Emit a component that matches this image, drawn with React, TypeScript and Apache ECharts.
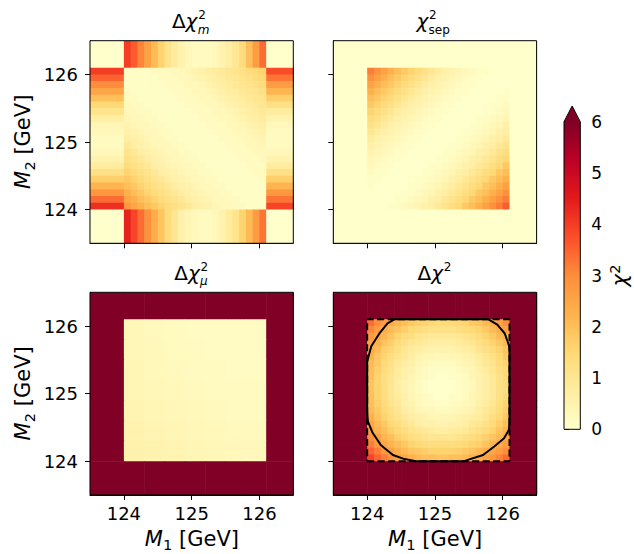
import React, { useEffect, useRef } from "react";
import * as echarts from "echarts";

// ---------- data ----------
const AXIS_MIN = 123.5;
const AXIS_MAX = 126.5;
const MASS_TICKS = [124, 125, 126];
const CB_MIN = 0;
const CB_MAX = 6;
const CB_TICKS = [0, 1, 2, 3, 4, 5, 6];

// cell edges (GeV) of the scanned mass window
const INNER_EDGES = [124.0, 124.1, 124.2, 124.3, 124.4, 124.5, 124.6, 124.7, 124.8, 124.9, 125.0, 125.1, 125.2, 125.3, 125.4, 125.5, 125.6, 125.7, 125.8, 125.9, 126.0, 126.1];
const MU_EDGES = [124.0, 124.3, 124.6, 124.9, 125.2, 125.5, 125.8, 126.1];

// Δχ²_m : bands outside the window (left/right listed top→bottom, top/bottom listed left→right)
const DM_CORNER = 0.0;
const DM_TOP = [4.0, 3.6, 3.1, 2.6, 2.1, 1.6, 1.1, 0.8, 0.5, 0.3, 0.2, 0.2, 0.2, 0.3, 0.5, 0.7, 1.0, 1.4, 2.0, 2.7, 3.4];
const DM_BOTTOM = [4.4, 3.9, 3.4, 2.9, 2.4, 1.9, 1.4, 1.0, 0.6, 0.4, 0.3, 0.2, 0.2, 0.3, 0.5, 0.8, 1.1, 1.6, 2.1, 2.7, 3.3];
const DM_LEFT = [4.0, 3.5, 3.0, 2.5, 2.0, 1.5, 1.1, 0.7, 0.4, 0.3, 0.2, 0.2, 0.3, 0.5, 0.8, 1.2, 1.7, 2.2, 2.8, 3.4, 4.2];
const DM_RIGHT = [3.8, 3.3, 2.7, 2.2, 1.7, 1.2, 0.8, 0.5, 0.3, 0.2, 0.2, 0.2, 0.3, 0.5, 0.8, 1.2, 1.7, 2.2, 2.8, 3.3, 3.9];
// Δχ²_m inside the window, rows from M2 = 126.1 (top) down to 124.0
const DM_INNER = [
  [0.1, 0.1, 0.1, 0.1, 0.2, 0.2, 0.2, 0.3, 0.3, 0.4, 0.5, 0.6, 0.7, 0.8, 0.9, 1.0, 1.1, 1.2, 1.4, 1.5, 1.6],
  [0.1, 0.1, 0.1, 0.1, 0.1, 0.2, 0.2, 0.2, 0.3, 0.3, 0.4, 0.5, 0.6, 0.7, 0.8, 0.9, 1.0, 1.1, 1.2, 1.4, 1.5],
  [0.1, 0.1, 0.1, 0.1, 0.1, 0.1, 0.2, 0.2, 0.2, 0.3, 0.3, 0.4, 0.5, 0.6, 0.7, 0.8, 0.9, 1.0, 1.1, 1.2, 1.4],
  [0.2, 0.1, 0.1, 0.1, 0.1, 0.1, 0.1, 0.2, 0.2, 0.2, 0.3, 0.3, 0.4, 0.5, 0.6, 0.7, 0.8, 0.9, 1.0, 1.1, 1.2],
  [0.2, 0.2, 0.1, 0.1, 0.1, 0.1, 0.1, 0.1, 0.2, 0.2, 0.2, 0.3, 0.3, 0.4, 0.5, 0.6, 0.7, 0.8, 0.9, 1.0, 1.1],
  [0.3, 0.2, 0.2, 0.1, 0.1, 0.1, 0.1, 0.1, 0.1, 0.2, 0.2, 0.2, 0.3, 0.3, 0.4, 0.5, 0.6, 0.7, 0.8, 0.9, 1.0],
  [0.3, 0.3, 0.2, 0.2, 0.1, 0.1, 0.1, 0.1, 0.1, 0.1, 0.2, 0.2, 0.2, 0.3, 0.3, 0.4, 0.5, 0.6, 0.7, 0.8, 0.9],
  [0.4, 0.3, 0.3, 0.2, 0.2, 0.1, 0.1, 0.1, 0.1, 0.1, 0.1, 0.2, 0.2, 0.2, 0.3, 0.3, 0.4, 0.5, 0.6, 0.7, 0.8],
  [0.5, 0.4, 0.3, 0.3, 0.2, 0.2, 0.1, 0.1, 0.1, 0.1, 0.1, 0.1, 0.2, 0.2, 0.2, 0.3, 0.3, 0.4, 0.5, 0.6, 0.7],
  [0.6, 0.5, 0.4, 0.3, 0.3, 0.2, 0.2, 0.1, 0.1, 0.1, 0.1, 0.1, 0.1, 0.2, 0.2, 0.2, 0.3, 0.3, 0.4, 0.5, 0.6],
  [0.7, 0.6, 0.5, 0.4, 0.3, 0.3, 0.2, 0.2, 0.1, 0.1, 0.1, 0.1, 0.1, 0.1, 0.2, 0.2, 0.2, 0.3, 0.3, 0.4, 0.5],
  [0.9, 0.7, 0.6, 0.5, 0.4, 0.3, 0.3, 0.2, 0.2, 0.1, 0.1, 0.1, 0.1, 0.1, 0.1, 0.2, 0.2, 0.2, 0.3, 0.3, 0.4],
  [1.1, 0.9, 0.7, 0.6, 0.5, 0.4, 0.3, 0.3, 0.2, 0.2, 0.1, 0.1, 0.1, 0.1, 0.1, 0.1, 0.2, 0.2, 0.2, 0.3, 0.3],
  [1.2, 1.1, 0.9, 0.7, 0.6, 0.5, 0.4, 0.3, 0.3, 0.2, 0.2, 0.1, 0.1, 0.1, 0.1, 0.1, 0.1, 0.2, 0.2, 0.2, 0.3],
  [1.4, 1.2, 1.1, 0.9, 0.7, 0.6, 0.5, 0.4, 0.3, 0.3, 0.2, 0.2, 0.1, 0.1, 0.1, 0.1, 0.1, 0.1, 0.2, 0.2, 0.2],
  [1.6, 1.4, 1.2, 1.1, 0.9, 0.7, 0.6, 0.5, 0.4, 0.3, 0.3, 0.2, 0.2, 0.1, 0.1, 0.1, 0.1, 0.1, 0.1, 0.2, 0.2],
  [1.8, 1.6, 1.4, 1.2, 1.1, 0.9, 0.7, 0.6, 0.5, 0.4, 0.3, 0.3, 0.2, 0.2, 0.1, 0.1, 0.1, 0.1, 0.1, 0.1, 0.2],
  [2.0, 1.8, 1.6, 1.4, 1.2, 1.1, 0.9, 0.7, 0.6, 0.5, 0.4, 0.3, 0.3, 0.2, 0.2, 0.1, 0.1, 0.1, 0.1, 0.1, 0.1],
  [2.3, 2.0, 1.8, 1.6, 1.4, 1.2, 1.1, 0.9, 0.7, 0.6, 0.5, 0.4, 0.3, 0.3, 0.2, 0.2, 0.1, 0.1, 0.1, 0.1, 0.1],
  [2.5, 2.3, 2.0, 1.8, 1.6, 1.4, 1.2, 1.1, 0.9, 0.7, 0.6, 0.5, 0.4, 0.3, 0.3, 0.2, 0.2, 0.1, 0.1, 0.1, 0.1],
  [2.8, 2.5, 2.3, 2.0, 1.8, 1.6, 1.4, 1.2, 1.1, 0.9, 0.7, 0.6, 0.5, 0.4, 0.3, 0.3, 0.2, 0.2, 0.1, 0.1, 0.1],
];

// χ²_sep
const SEP_OUTSIDE = 0.0;
const SEP_INNER = [
  [3.2, 2.9, 2.6, 2.3, 2.0, 1.8, 1.6, 1.4, 1.2, 1.0, 0.8, 0.6, 0.5, 0.4, 0.3, 0.2, 0.1, 0.1, 0.0, 0.0, 0.0],
  [2.9, 2.6, 2.3, 2.0, 1.8, 1.6, 1.4, 1.2, 1.0, 0.8, 0.6, 0.5, 0.4, 0.3, 0.2, 0.1, 0.1, 0.0, 0.0, 0.0, 0.0],
  [2.6, 2.3, 2.0, 1.8, 1.6, 1.4, 1.2, 1.0, 0.8, 0.6, 0.5, 0.4, 0.3, 0.2, 0.1, 0.1, 0.0, 0.0, 0.0, 0.0, 0.0],
  [2.3, 2.0, 1.8, 1.6, 1.4, 1.2, 1.0, 0.8, 0.6, 0.5, 0.4, 0.3, 0.2, 0.1, 0.1, 0.0, 0.0, 0.0, 0.0, 0.0, 0.1],
  [2.0, 1.8, 1.6, 1.4, 1.2, 1.0, 0.8, 0.6, 0.5, 0.4, 0.3, 0.2, 0.1, 0.1, 0.0, 0.0, 0.0, 0.0, 0.0, 0.1, 0.1],
  [1.8, 1.6, 1.4, 1.2, 1.0, 0.8, 0.6, 0.5, 0.4, 0.3, 0.2, 0.1, 0.1, 0.0, 0.0, 0.0, 0.0, 0.0, 0.1, 0.1, 0.2],
  [1.6, 1.4, 1.2, 1.0, 0.8, 0.6, 0.5, 0.4, 0.3, 0.2, 0.1, 0.1, 0.0, 0.0, 0.0, 0.0, 0.0, 0.1, 0.1, 0.2, 0.3],
  [1.4, 1.2, 1.0, 0.8, 0.6, 0.5, 0.4, 0.3, 0.2, 0.1, 0.1, 0.0, 0.0, 0.0, 0.0, 0.0, 0.1, 0.1, 0.2, 0.3, 0.4],
  [1.2, 1.0, 0.8, 0.6, 0.5, 0.4, 0.3, 0.2, 0.1, 0.1, 0.0, 0.0, 0.0, 0.0, 0.0, 0.1, 0.1, 0.2, 0.3, 0.4, 0.6],
  [1.0, 0.8, 0.6, 0.5, 0.4, 0.3, 0.2, 0.1, 0.1, 0.0, 0.0, 0.0, 0.0, 0.0, 0.1, 0.1, 0.2, 0.3, 0.4, 0.6, 0.7],
  [0.8, 0.6, 0.5, 0.4, 0.3, 0.2, 0.1, 0.1, 0.0, 0.0, 0.0, 0.0, 0.0, 0.1, 0.1, 0.2, 0.3, 0.4, 0.6, 0.7, 0.9],
  [0.6, 0.5, 0.4, 0.3, 0.2, 0.1, 0.1, 0.0, 0.0, 0.0, 0.0, 0.0, 0.1, 0.1, 0.2, 0.3, 0.4, 0.6, 0.7, 0.9, 1.1],
  [0.5, 0.4, 0.3, 0.2, 0.1, 0.1, 0.0, 0.0, 0.0, 0.0, 0.0, 0.1, 0.1, 0.2, 0.3, 0.4, 0.6, 0.7, 0.9, 1.1, 1.3],
  [0.4, 0.3, 0.2, 0.1, 0.1, 0.0, 0.0, 0.0, 0.0, 0.0, 0.1, 0.1, 0.2, 0.3, 0.4, 0.6, 0.7, 0.9, 1.1, 1.3, 1.5],
  [0.3, 0.2, 0.1, 0.1, 0.0, 0.0, 0.0, 0.0, 0.0, 0.1, 0.1, 0.2, 0.3, 0.4, 0.6, 0.7, 0.9, 1.1, 1.3, 1.5, 1.8],
  [0.2, 0.1, 0.1, 0.0, 0.0, 0.0, 0.0, 0.0, 0.1, 0.1, 0.2, 0.3, 0.4, 0.6, 0.7, 0.9, 1.1, 1.3, 1.5, 1.8, 2.0],
  [0.1, 0.1, 0.0, 0.0, 0.0, 0.0, 0.0, 0.1, 0.1, 0.2, 0.3, 0.4, 0.6, 0.7, 0.9, 1.1, 1.3, 1.5, 1.8, 2.0, 2.3],
  [0.1, 0.0, 0.0, 0.0, 0.0, 0.0, 0.1, 0.1, 0.2, 0.3, 0.4, 0.6, 0.7, 0.9, 1.1, 1.3, 1.5, 1.8, 2.0, 2.3, 2.6],
  [0.0, 0.0, 0.0, 0.0, 0.0, 0.1, 0.1, 0.2, 0.3, 0.4, 0.6, 0.7, 0.9, 1.1, 1.3, 1.5, 1.8, 2.0, 2.3, 2.6, 2.9],
  [0.0, 0.0, 0.0, 0.0, 0.1, 0.1, 0.2, 0.3, 0.4, 0.6, 0.7, 0.9, 1.1, 1.3, 1.5, 1.8, 2.0, 2.3, 2.6, 2.9, 3.2],
  [0.0, 0.0, 0.0, 0.1, 0.1, 0.2, 0.3, 0.4, 0.6, 0.7, 0.9, 1.1, 1.3, 1.5, 1.8, 2.0, 2.3, 2.6, 2.9, 3.2, 3.6],
];

// Δχ²_μ (outside the window it is far above the colour scale)
const MU_OUTSIDE = 8.0;
const MU_INNER = [
  [0.35, 0.25, 0.2, 0.15, 0.15, 0.15, 0.15],
  [0.35, 0.3, 0.2, 0.2, 0.15, 0.15, 0.15],
  [0.4, 0.3, 0.25, 0.2, 0.2, 0.15, 0.15],
  [0.4, 0.35, 0.3, 0.25, 0.2, 0.2, 0.2],
  [0.45, 0.4, 0.35, 0.3, 0.25, 0.2, 0.2],
  [0.5, 0.45, 0.4, 0.35, 0.3, 0.25, 0.25],
  [0.55, 0.5, 0.45, 0.4, 0.35, 0.3, 0.3],
];

// Δχ² total
const TOT_OUTSIDE = 8.0;
const TOT_INNER = [
  [3.4, 3.0, 2.7, 2.4, 2.2, 2.0, 1.8, 1.7, 1.6, 1.5, 1.4, 1.4, 1.5, 1.5, 1.6, 1.8, 1.9, 2.1, 2.3, 2.6, 2.9],
  [3.1, 2.7, 2.4, 2.1, 1.9, 1.7, 1.5, 1.4, 1.3, 1.2, 1.2, 1.2, 1.2, 1.3, 1.4, 1.5, 1.6, 1.8, 2.1, 2.3, 2.6],
  [2.8, 2.5, 2.2, 1.9, 1.6, 1.4, 1.3, 1.1, 1.0, 0.9, 0.9, 0.9, 0.9, 1.0, 1.1, 1.2, 1.4, 1.6, 1.8, 2.1, 2.3],
  [2.6, 2.3, 1.9, 1.7, 1.4, 1.2, 1.0, 0.9, 0.8, 0.7, 0.7, 0.7, 0.7, 0.8, 0.9, 1.0, 1.2, 1.4, 1.6, 1.8, 2.1],
  [2.4, 2.1, 1.7, 1.5, 1.2, 1.0, 0.8, 0.7, 0.6, 0.5, 0.5, 0.5, 0.5, 0.6, 0.7, 0.8, 1.0, 1.2, 1.4, 1.6, 1.9],
  [2.3, 1.9, 1.6, 1.3, 1.1, 0.9, 0.7, 0.5, 0.4, 0.4, 0.3, 0.3, 0.4, 0.4, 0.5, 0.6, 0.8, 1.0, 1.2, 1.5, 1.8],
  [2.1, 1.8, 1.5, 1.2, 0.9, 0.7, 0.6, 0.4, 0.3, 0.2, 0.2, 0.2, 0.2, 0.3, 0.4, 0.5, 0.7, 0.9, 1.1, 1.4, 1.6],
  [2.0, 1.7, 1.4, 1.1, 0.8, 0.6, 0.5, 0.3, 0.2, 0.1, 0.1, 0.1, 0.1, 0.2, 0.3, 0.4, 0.6, 0.8, 1.0, 1.3, 1.5],
  [2.0, 1.6, 1.3, 1.0, 0.8, 0.6, 0.4, 0.3, 0.2, 0.1, 0.0, 0.0, 0.1, 0.1, 0.2, 0.4, 0.5, 0.7, 0.9, 1.2, 1.5],
  [1.9, 1.6, 1.3, 1.0, 0.7, 0.5, 0.4, 0.2, 0.1, 0.0, 0.0, 0.0, 0.0, 0.1, 0.2, 0.3, 0.5, 0.7, 0.9, 1.2, 1.4],
  [1.9, 1.6, 1.3, 1.0, 0.7, 0.5, 0.4, 0.2, 0.1, 0.0, 0.0, 0.0, 0.0, 0.1, 0.2, 0.3, 0.5, 0.7, 0.9, 1.2, 1.4],
  [2.0, 1.6, 1.3, 1.0, 0.8, 0.6, 0.4, 0.3, 0.2, 0.1, 0.0, 0.0, 0.1, 0.1, 0.2, 0.4, 0.5, 0.7, 0.9, 1.2, 1.5],
  [2.0, 1.7, 1.4, 1.1, 0.9, 0.6, 0.5, 0.3, 0.2, 0.2, 0.1, 0.1, 0.2, 0.2, 0.3, 0.4, 0.6, 0.8, 1.0, 1.3, 1.6],
  [2.1, 1.8, 1.5, 1.2, 1.0, 0.7, 0.6, 0.4, 0.3, 0.3, 0.2, 0.2, 0.3, 0.3, 0.4, 0.5, 0.7, 0.9, 1.1, 1.4, 1.7],
  [2.3, 1.9, 1.6, 1.3, 1.1, 0.9, 0.7, 0.6, 0.5, 0.4, 0.4, 0.4, 0.4, 0.5, 0.6, 0.7, 0.8, 1.0, 1.3, 1.5, 1.8],
  [2.5, 2.1, 1.8, 1.5, 1.3, 1.1, 0.9, 0.7, 0.6, 0.6, 0.5, 0.5, 0.6, 0.6, 0.7, 0.9, 1.0, 1.2, 1.4, 1.7, 2.0],
  [2.7, 2.3, 2.0, 1.7, 1.5, 1.3, 1.1, 1.0, 0.9, 0.8, 0.7, 0.7, 0.8, 0.8, 0.9, 1.1, 1.2, 1.4, 1.6, 1.9, 2.2],
  [2.9, 2.6, 2.2, 2.0, 1.7, 1.5, 1.3, 1.2, 1.1, 1.0, 1.0, 1.0, 1.0, 1.1, 1.2, 1.3, 1.5, 1.7, 1.9, 2.1, 2.4],
  [3.2, 2.8, 2.5, 2.2, 2.0, 1.8, 1.6, 1.5, 1.4, 1.3, 1.3, 1.3, 1.3, 1.4, 1.5, 1.6, 1.7, 1.9, 2.2, 2.4, 2.7],
  [3.5, 3.2, 2.8, 2.6, 2.3, 2.1, 1.9, 1.8, 1.7, 1.6, 1.6, 1.6, 1.6, 1.7, 1.8, 1.9, 2.1, 2.3, 2.5, 2.7, 3.0],
  [3.9, 3.5, 3.2, 2.9, 2.7, 2.5, 2.3, 2.1, 2.0, 2.0, 1.9, 1.9, 2.0, 2.0, 2.1, 2.3, 2.4, 2.6, 2.8, 3.1, 3.4],
];

// Δχ² = 2.3 contour (solid) and window boundary contour (dashed)
const CONTOUR_M1 = [124.40, 125.79, 125.92, 126.03, 126.09, 126.10, 126.10, 126.09, 126.02, 125.88, 125.71, 125.52, 125.43, 124.72, 124.55, 124.38, 124.20, 124.08, 124.01, 124.00, 124.00, 124.06, 124.18, 124.30, 124.40];
const CONTOUR_M2 = [126.10, 126.10, 126.02, 125.89, 125.72, 125.65, 124.56, 124.46, 124.34, 124.22, 124.09, 124.03, 124.00, 124.00, 124.03, 124.09, 124.24, 124.42, 124.59, 124.73, 125.47, 125.70, 125.89, 126.04, 126.10];
const WINDOW_M1 = [124.0, 126.1, 126.1, 124.0, 124.0];
const WINDOW_M2 = [124.0, 124.0, 126.1, 126.1, 124.0];

const YLORRD = ["#ffffcc", "#ffeda0", "#fed976", "#feb24c", "#fd8d3c", "#fc4e2a", "#e31a1c", "#bd0026", "#800026"];

// ---------- layout ----------
const FONT = "DejaVu Sans";
const PANELS = [
  { left: 90, top: 40.7 },
  { left: 333.3, top: 40.7 },
  { left: 90, top: 292.3 },
  { left: 333.3, top: 292.3 },
];
const PW = 203.3;
const PH = 202.6;
const CB = { left: 564, top: 121.7, width: 16.3, height: 307.6, tip: 106 };

function withRing(rows: number[][], ring: number) {
  const n = rows[0].length;
  const full = new Array(n + 2).fill(ring);
  return [full, ...rows.map((r) => [ring, ...r, ring]), full];
}

function toCells(xEdges: number[], yEdges: number[], rowsTopDown: number[][]) {
  const out: number[][] = [];
  const ny = yEdges.length - 1;
  rowsTopDown.forEach((row, r) => {
    const yi = ny - 1 - r;
    row.forEach((v, c) => {
      out.push([xEdges[c], xEdges[c + 1], yEdges[yi], yEdges[yi + 1], v]);
    });
  });
  return out;
}

function txt(x: number, y: number, text: string, size: number, italic = false, lineHeight?: number) {
  return {
    type: "text",
    x,
    y,
    z: 20,
    silent: true,
    style: {
      text,
      fontSize: size,
      fontFamily: FONT,
      fontStyle: italic ? "italic" : "normal",
      fill: "#000",
      align: "left",
      verticalAlign: "middle",
      lineHeight: lineHeight ?? size,
    },
  };
}

export default function App() {
  const ref = useRef<HTMLDivElement>(null);

  useEffect(() => {
    document.body.style.margin = "0";
    if (!ref.current) return;
    const chart = echarts.init(ref.current, null, { renderer: "svg" });

    const fullEdges = [AXIS_MIN, ...INNER_EDGES, AXIS_MAX];
    const muEdges = [AXIS_MIN, ...MU_EDGES, AXIS_MAX];

    const dmRows = [
      [DM_CORNER, ...DM_TOP, DM_CORNER],
      ...DM_INNER.map((r, i) => [DM_LEFT[i], ...r, DM_RIGHT[i]]),
      [DM_CORNER, ...DM_BOTTOM, DM_CORNER],
    ];
    const cellSets = [
      toCells(fullEdges, fullEdges, dmRows),
      toCells(fullEdges, fullEdges, withRing(SEP_INNER, SEP_OUTSIDE)),
      toCells(muEdges, muEdges, withRing(MU_INNER, MU_OUTSIDE)),
      toCells(fullEdges, fullEdges, withRing(TOT_INNER, TOT_OUTSIDE)),
    ];

    const grids: any[] = PANELS.map((p) => ({
      left: p.left,
      top: p.top,
      width: PW,
      height: PH,
      show: true,
      z: 5,
      backgroundColor: "rgba(0,0,0,0)",
      borderColor: "#000",
      borderWidth: 1,
    }));
    grids.push({ left: CB.left, top: CB.top, width: CB.width, height: CB.height });

    const labelStyle = { fontSize: 18, color: "#000", fontFamily: FONT };
    const xAxes: any[] = PANELS.map((_, i) => ({
      gridIndex: i,
      type: "value",
      min: AXIS_MIN,
      max: AXIS_MAX,
      axisLine: { show: true, onZero: false, lineStyle: { color: "#000", width: 1 } },
      axisTick: { show: true, length: 5, customValues: MASS_TICKS, lineStyle: { color: "#000", width: 1 } },
      axisLabel: { show: i >= 2, customValues: MASS_TICKS, margin: 10, ...labelStyle },
      splitLine: { show: false },
    }));
    const yAxes: any[] = PANELS.map((_, i) => ({
      gridIndex: i,
      type: "value",
      min: AXIS_MIN,
      max: AXIS_MAX,
      axisLine: { show: true, onZero: false, lineStyle: { color: "#000", width: 1 } },
      axisTick: { show: true, length: 5, customValues: MASS_TICKS, lineStyle: { color: "#000", width: 1 } },
      axisLabel: { show: i % 2 === 0, customValues: MASS_TICKS, margin: 12, ...labelStyle },
      splitLine: { show: false },
    }));
    xAxes.push({ gridIndex: 4, type: "value", min: 0, max: 1, show: false });
    yAxes.push({
      gridIndex: 4,
      type: "value",
      position: "right",
      min: CB_MIN,
      max: CB_MAX,
      interval: 1,
      axisLine: { show: false },
      axisTick: { show: true, length: 5, lineStyle: { color: "#000", width: 1 } },
      axisLabel: { margin: 11, fontSize: 17, color: "#000", fontFamily: FONT, customValues: CB_TICKS },
      splitLine: { show: false },
    });

    const heatSeries = cellSets.map((cells, i) => ({
      type: "custom",
      xAxisIndex: i,
      yAxisIndex: i,
      clip: true,
      silent: true,
      encode: { x: [0, 1], y: [2, 3] },
      data: cells,
      renderItem: (_params: any, api: any) => {
        const a = api.coord([api.value(0), api.value(3)]);
        const b = api.coord([api.value(1), api.value(2)]);
        return {
          type: "rect",
          shape: { x: a[0], y: a[1], width: b[0] - a[0] + 0.6, height: b[1] - a[1] + 0.6 },
          style: { fill: api.visual("color") },
        };
      },
    }));

    const lineSeries = [
      {
        type: "line",
        xAxisIndex: 3,
        yAxisIndex: 3,
        data: WINDOW_M1.map((m, i) => [m, WINDOW_M2[i]]),
        showSymbol: false,
        symbol: "none",
        silent: true,
        z: 4,
        lineStyle: { color: "#000", width: 2, type: [7, 3.5] },
      },
      {
        type: "line",
        xAxisIndex: 3,
        yAxisIndex: 3,
        data: CONTOUR_M1.map((m, i) => [m, CONTOUR_M2[i]]),
        showSymbol: false,
        symbol: "none",
        silent: true,
        z: 4,
        lineStyle: { color: "#000", width: 2 },
      },
    ];

    // text pieces (titles & axis names with math sub/superscripts)
    const S = 20; // title size
    const s = 12; // script size
    const A = 21; // axis-name size
    const a = 14.7; // axis-name script size
    const dy = PANELS[2].top - PANELS[0].top;
    const yMain = 21.1;
    const ySup = 15.0;
    const ySub = 29.8;

    const titleEls: any[] = [
      // Δχ²_m
      txt(171.9, yMain, "Δ", S),
      txt(185.6, yMain, "χ", S, true),
      txt(198.2, ySup, "2", s, false, s),
      txt(197.7, ySub, "m", s, true, s),
      // χ²_sep
      txt(416.4, yMain, "χ", S, true),
      txt(429.0, ySup, "2", s, false, s),
      txt(428.6, ySub, "sep", s, false, s),
      // Δχ²_μ
      txt(174.2, yMain + dy, "Δ", S),
      txt(187.9, yMain + dy, "χ", S, true),
      txt(200.5, ySup + dy, "2", s, false, s),
      txt(200.0, ySub + dy, "μ", s, true, s),
      // Δχ²
      txt(417.5, yMain + dy, "Δ", S),
      txt(431.2, yMain + dy, "χ", S, true),
      txt(443.8, ySup + dy, "2", s, false, s),
    ];

    const xName = (cx: number) => [
      txt(cx - 47, 538.7, "M", A, true),
      txt(cx - 28.6, 544.9, "1", a, false, 10),
      txt(cx - 19.3, 538.7, " [GeV]", A),
    ];
    const yName = (cy: number) => ({
      type: "group",
      x: 30.6,
      y: cy,
      rotation: Math.PI / 2,
      children: [
        txt(-47, -7.3, "M", A, true),
        txt(-28.6, -1.1, "2", a, false, 10),
        txt(-19.3, -7.3, " [GeV]", A),
      ],
    });
    const cbName = {
      type: "group",
      x: 627,
      y: CB.top + CB.height / 2,
      rotation: Math.PI / 2,
      children: [txt(-11.1, -7.3, "χ", A, true), txt(1.8, -12.5, "2", a, false, 10)],
    };

    const gradient = new echarts.graphic.LinearGradient(
      0,
      1,
      0,
      0,
      YLORRD.map((c, i) => ({ offset: i / (YLORRD.length - 1), color: c }))
    );
    const cbX0 = CB.left;
    const cbX1 = CB.left + CB.width;
    const cbY0 = CB.top;
    const cbY1 = CB.top + CB.height;
    const colorbarEls: any[] = [
      { type: "rect", z: 10, silent: true, shape: { x: cbX0, y: cbY0, width: CB.width, height: CB.height }, style: { fill: gradient } },
      {
        type: "polygon",
        z: 10,
        silent: true,
        shape: { points: [[cbX0, cbY0 + 0.5], [(cbX0 + cbX1) / 2, CB.tip], [cbX1, cbY0 + 0.5]] },
        style: { fill: YLORRD[YLORRD.length - 1] },
      },
      {
        type: "polygon",
        z: 11,
        silent: true,
        shape: { points: [[cbX0, cbY1], [cbX0, cbY0], [(cbX0 + cbX1) / 2, CB.tip], [cbX1, cbY0], [cbX1, cbY1]] },
        style: { fill: "none", stroke: "#000", lineWidth: 1 },
      },
    ];

    chart.setOption({
      animation: false,
      backgroundColor: "#fff",
      textStyle: { fontFamily: FONT },
      grid: grids,
      xAxis: xAxes,
      yAxis: yAxes,
      visualMap: {
        type: "continuous",
        show: false,
        min: CB_MIN,
        max: CB_MAX,
        dimension: 4,
        seriesIndex: [0, 1, 2, 3],
        inRange: { color: YLORRD },
        outOfRange: { color: [YLORRD[YLORRD.length - 1]] },
      },
      series: [...heatSeries, ...lineSeries],
      graphic: {
        elements: [
          ...titleEls,
          ...xName(PANELS[2].left + PW / 2),
          ...xName(PANELS[3].left + PW / 2),
          yName(PANELS[0].top + PH / 2),
          yName(PANELS[2].top + PH / 2),
          cbName,
          ...colorbarEls,
        ],
      },
    });

    return () => chart.dispose();
  }, []);

  return <div ref={ref} style={{ width: 634, height: 554 }} />;
}
